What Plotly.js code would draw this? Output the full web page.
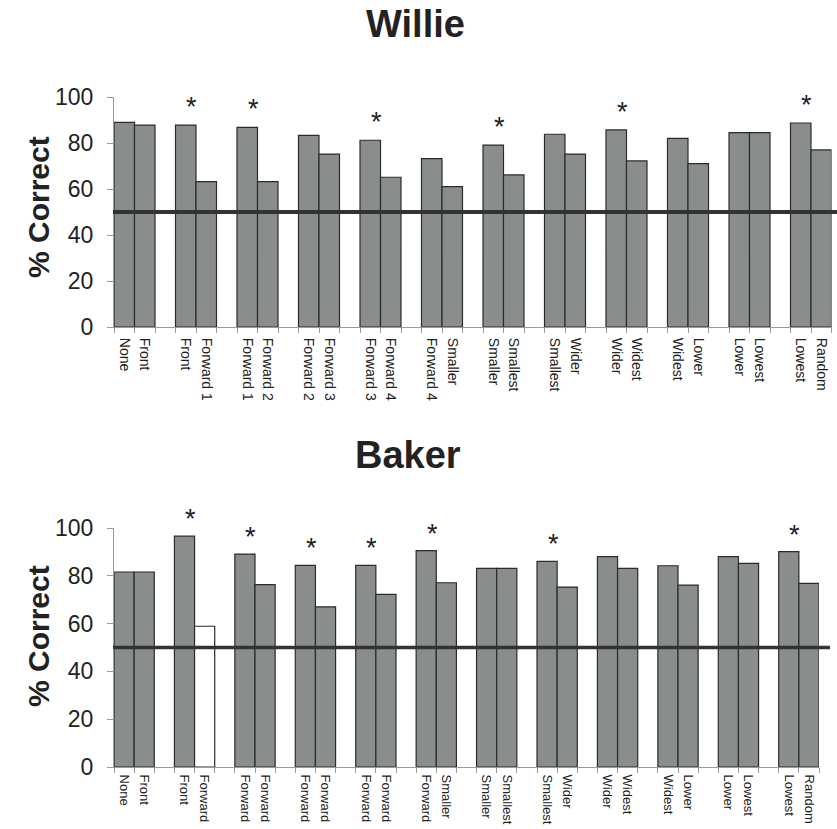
<!DOCTYPE html>
<html>
<head>
<meta charset="utf-8">
<script src="https://cdn.plot.ly/plotly-3.0.1.min.js"></script>
<style>html,body{margin:0;padding:0;background:#fff;}#chart{width:837px;height:829px;}</style>
</head>
<body>
<div id="chart"></div>
<script>
// ---- data ----
const labelsWillie = ['None','Front','Front','Forward 1','Forward 1','Forward 2','Forward 2','Forward 3','Forward 3','Forward 4','Forward 4','Smaller','Smaller','Smallest','Smallest','Wider','Wider','Widest','Widest','Lower','Lower','Lowest','Lowest','Random'];
const valuesWillie = [89.0, 87.8, 87.8, 63.2, 86.8, 63.2, 83.3, 75.2, 81.2, 65.1, 73.2, 61.0, 79.1, 66.1, 83.8, 75.2, 85.7, 72.2, 82.0, 71.0, 84.5, 84.5, 88.7, 77.0];
const starGroupsWillie = [1, 2, 4, 6, 8, 11];

const labelsBaker = ['None','Front','Front','Forward','Forward','Forward','Forward','Forward','Forward','Forward','Forward','Smaller','Smaller','Smallest','Smallest','Wider','Wider','Widest','Widest','Lower','Lower','Lowest','Lowest','Random'];
const valuesBaker = [81.6, 81.6, 96.6, 58.9, 89.1, 76.3, 84.4, 67.0, 84.4, 72.2, 90.5, 77.1, 83.1, 83.1, 86.0, 75.3, 88.0, 83.1, 84.2, 76.1, 88.0, 85.2, 90.1, 76.8];
const starGroupsBaker = [1, 2, 3, 4, 5, 7, 11];
const whiteBarsBaker = [3];

const chanceLevel = 50;
const yTicks = [0, 20, 40, 60, 80, 100];

// ---- derived positions (slot layout: two bars per group, one empty slot between groups) ----
const slotOf = i => 3 * Math.floor(i / 2) + (i % 2);
const xsW = valuesWillie.map((v, i) => slotOf(i));
const xsB = valuesBaker.map((v, i) => slotOf(i));
const boundaries = [];
for (let k = -0.5; k <= 34.5; k += 1) boundaries.push(k);

const GRAY = '#8a8e8a';
const EDGE = '#2b2b2b';
const FONT = 'Liberation Sans, Arial, sans-serif';
const W = 837, H = 829;

const traces = [
  {
    type: 'bar', x: xsW, y: valuesWillie, width: 1,
    marker: {color: GRAY, line: {color: EDGE, width: 1.2}},
    xaxis: 'x', yaxis: 'y', hoverinfo: 'none', showlegend: false
  },
  {
    type: 'bar', x: xsB, y: valuesBaker, width: 1,
    marker: {color: valuesBaker.map((v, i) => whiteBarsBaker.includes(i) ? '#ffffff' : GRAY), line: {color: EDGE, width: 1.2}},
    xaxis: 'x2', yaxis: 'y2', hoverinfo: 'none', showlegend: false
  }
];

function xAxis(domain, xs, labels, anchor, fsize, standoff) {
  return {
    domain: domain, anchor: anchor, range: [-0.5, 34.5],
    tickmode: 'array', tickvals: xs, ticktext: labels, tickangle: 90,
    ticks: '', ticklabelstandoff: standoff,
    tickfont: {family: FONT, size: fsize, color: '#222'},
    showline: true, linecolor: '#9a9a9a', linewidth: 1,
    showgrid: false, zeroline: false, fixedrange: true,
    minor: {tickmode: 'array', tickvals: boundaries, ticks: 'outside', ticklen: 5, tickcolor: '#9a9a9a', tickwidth: 1, showgrid: false}
  };
}
function yAxis(domain, anchor) {
  return {
    domain: domain, anchor: anchor, range: [0, 100],
    tickmode: 'array', tickvals: yTicks,
    ticks: 'outside', ticklen: 6, tickcolor: '#9a9a9a', ticklabelstandoff: 9,
    tickfont: {family: FONT, size: 23, color: '#222'},
    showline: true, linecolor: '#9a9a9a', linewidth: 1,
    showgrid: false, zeroline: false, fixedrange: true
  };
}

const annotations = [
  {text: '<b>Willie</b>', xref: 'paper', yref: 'paper', x: 415 / W, y: 1 - 24 / H, xanchor: 'center', yanchor: 'middle', showarrow: false, font: {family: FONT, size: 38, color: '#222'}},
  {text: '<b>Baker</b>', xref: 'paper', yref: 'paper', x: 408 / W, y: 1 - 455 / H, xanchor: 'center', yanchor: 'middle', showarrow: false, font: {family: FONT, size: 38, color: '#222'}},
  {text: '<b>% Correct</b>', xref: 'paper', yref: 'paper', x: 38 / W, y: 1 - 207 / H, xanchor: 'center', yanchor: 'middle', textangle: -90, showarrow: false, font: {family: FONT, size: 30, color: '#222'}},
  {text: '<b>% Correct</b>', xref: 'paper', yref: 'paper', x: 38 / W, y: 1 - 636 / H, xanchor: 'center', yanchor: 'middle', textangle: -90, showarrow: false, font: {family: FONT, size: 30, color: '#222'}}
];
starGroupsWillie.forEach(g => {
  annotations.push({text: '*', xref: 'x', yref: 'y', x: 3 * g + 0.3, y: Math.max(valuesWillie[2 * g], valuesWillie[2 * g + 1]),
    xanchor: 'center', yanchor: 'bottom', yshift: 1, showarrow: false, font: {family: FONT, size: 27, color: '#222'}});
});
starGroupsBaker.forEach(g => {
  annotations.push({text: '*', xref: 'x2', yref: 'y2', x: 3 * g + 0.3, y: Math.max(valuesBaker[2 * g], valuesBaker[2 * g + 1]),
    xanchor: 'center', yanchor: 'bottom', yshift: 0, showarrow: false, font: {family: FONT, size: 27, color: '#222'}});
});

const layout = {
  width: W, height: H,
  margin: {l: 0, r: 0, t: 0, b: 0},
  paper_bgcolor: '#fff', plot_bgcolor: 'rgba(0,0,0,0)',
  barmode: 'overlay',
  xaxis: xAxis([114 / W, 831.5 / W], xsW, labelsWillie, 'y', 14, 7),
  yaxis: yAxis([1 - 327 / H, 1 - 97 / H], 'x'),
  xaxis2: xAxis([114 / W, 819 / W], xsB, labelsBaker, 'y2', 13, 4),
  yaxis2: yAxis([1 - 767 / H, 1 - 528 / H], 'x2'),
  shapes: [
    {type: 'line', xref: 'paper', yref: 'y', x0: 113 / W, x1: 1, y0: chanceLevel, y1: chanceLevel, line: {color: '#333', width: 4}},
    {type: 'line', xref: 'paper', yref: 'y2', x0: 113 / W, x1: 830 / W, y0: chanceLevel, y1: chanceLevel, line: {color: '#333', width: 3.5}}
  ],
  annotations: annotations,
  font: {family: FONT, color: '#222'}
};

Plotly.newPlot('chart', traces, layout, {displayModeBar: false, staticPlot: true});
</script>
</body>
</html>
